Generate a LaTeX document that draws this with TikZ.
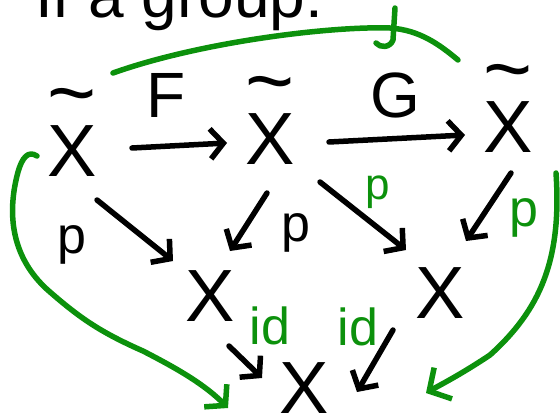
\documentclass[tikz,border=0pt]{standalone}
\usepackage{amsmath}
\usepackage{fontspec}
\setmainfont{Liberation Sans}
\usetikzlibrary{arrows.meta,positioning}
\definecolor{inkgreen}{RGB}{12,145,12}
\newcommand{\tildeX}{$\overset{\text{\fontsize{84}{90}\selectfont\textasciitilde}}{\text{X}}$}

\begin{document}
\begin{tikzpicture}[x=1pt, y=-1pt,
    obj/.style={font=\fontsize{74}{80}\selectfont, inner sep=0pt, anchor=base},
    lbl/.style={font=\fontsize{52}{56}\selectfont, inner sep=0pt},
    pen/.style={line width=5.5pt, line cap=round, line join=round},
    map/.style={pen, -{Straight Barb[length=13pt,width=30pt]}}]
  \useasboundingbox (0,0) rectangle (560,417);
  % Title (cut off at the top)
  \node[lbl, anchor=base west, font=\fontsize{64}{68}\selectfont] (title) at (35,18) {If a group:};
  % Objects
  \node[obj] (Xt1) at (72,177) {\tildeX};
  \node[obj] (Xt2) at (270,165) {\tildeX};
  \node[obj] (Xt3) at (508,153) {\tildeX};
  \node[obj] (Xl) at (210,321) {X};
  \node[obj] (Xr) at (440,318) {X};
  \node[obj] (Xb) at (304,413) {X};
  % Top row maps
  \node[lbl, font=\fontsize{64}{68}\selectfont] (F) at (166,95) {F};
  \node[lbl, font=\fontsize{64}{68}\selectfont] (G) at (395,95) {G};
  \draw[map] ([shift={(60,-29)}]Xt1.base) -- ([shift={(-43,-22)}]Xt2.base);
  \draw[map] ([shift={(59,-23)}]Xt2.base) -- ([shift={(-43,-18)}]Xt3.base);
  % Projections
  \draw[map] ([shift={(25,23)}]Xt1.base) -- ([shift={(-37,-60)}]Xl.base);
  \draw[map] ([shift={(-3,28)}]Xt2.base) -- ([shift={(20,-70)}]Xl.base);
  \draw[map] ([shift={(50,17)}]Xt2.base) -- ([shift={(-34,-68)}]Xr.base);
  \draw[map] ([shift={(3,20)}]Xt3.base) -- ([shift={(26,-77)}]Xr.base);
  \node[lbl] (p1) at (72,245) {p};
  \node[lbl] (p2) at (296,233) {p};
  \node[lbl, inkgreen, font=\fontsize{44}{48}\selectfont] (p3) at (378,192) {p};
  \node[lbl, inkgreen] (p4) at (524,218) {p};
  % Identities
  \draw[map] ([shift={(19,25)}]Xl.base) -- ([shift={(-42,-35)}]Xb.base);
  \draw[map] ([shift={(-47,12)}]Xr.base) -- ([shift={(53,-21)}]Xb.base);
  \node[lbl, inkgreen] (id1) at (270,326) {id};
  \node[lbl, inkgreen] (id2) at (358,327) {id};
  % Green composites
  \draw[pen, inkgreen] ([shift={(41,-104)}]Xt1.base)
    .. controls (200,42) and (330,26) .. (390,28)
    .. controls (420,30) and (440,45) .. ([shift={(-50,-93)}]Xt3.base);
  \draw[pen, inkgreen] (395,8) -- (393,40) .. controls (390,48) and (380,48) .. (376,43);
  \draw[pen, inkgreen, -{Straight Barb[length=14pt,width=32pt]}]
    ([shift={(-35,-21)}]Xt1.base) .. controls (28,150) and (22,158) .. (18,172)
    .. controls (5,220) and (15,262) .. (50,292)
    .. controls (80,318) and (100,332) .. (143,351)
    .. controls (180,370) and (205,385) .. ([shift={(-76,-5)}]Xb.base);
  \draw[pen, inkgreen, -{Straight Barb[length=16pt,width=36pt]}]
    ([shift={(48,20)}]Xt3.base) .. controls (562,260) and (540,310) .. (490,355)
    .. controls (460,375) and (440,385) .. ([shift={(122,-20)}]Xb.base);
\end{tikzpicture}
\end{document}
